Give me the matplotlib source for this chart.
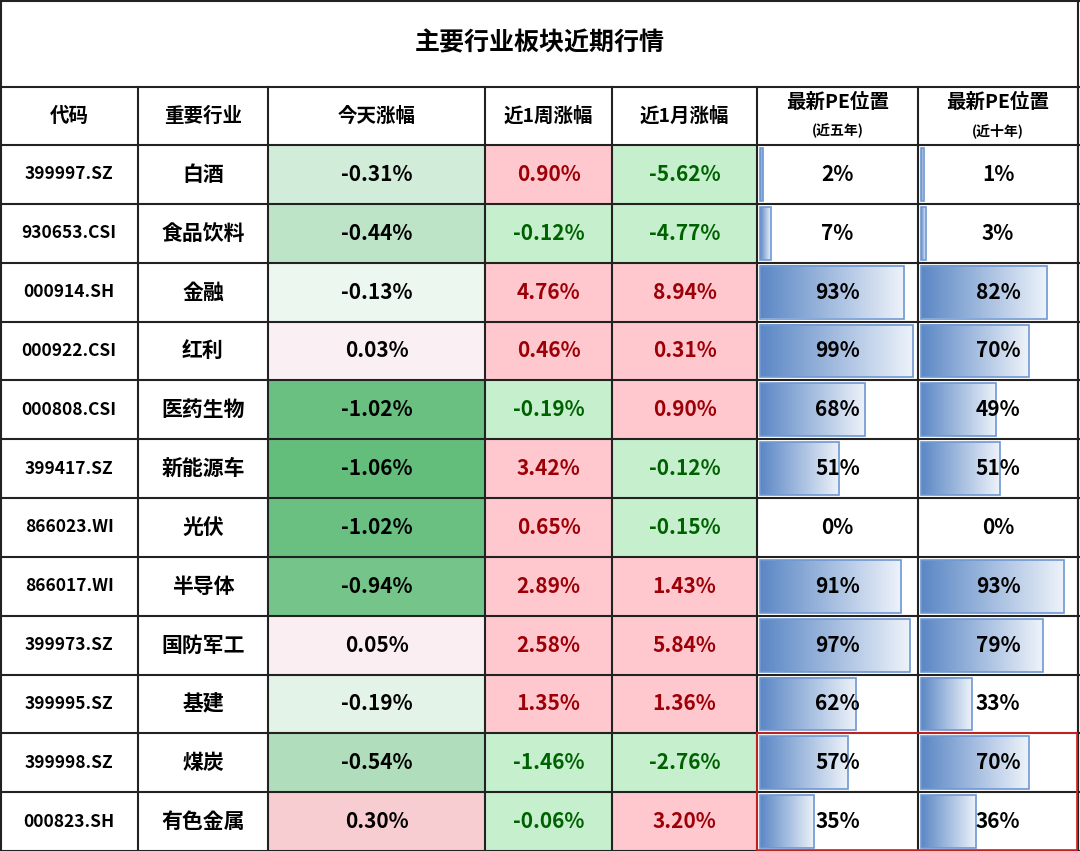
import numpy as np
import matplotlib.pyplot as plt
from matplotlib.colors import LinearSegmentedColormap, to_rgb
from matplotlib.patches import Rectangle

plt.rcParams["font.family"] = ["Noto Sans CJK SC", "Noto Sans CJK JP", "Noto Sans CJK TC",
                               "Noto Sans CJK KR", "DejaVu Sans"]

title = "主要行业板块近期行情"
headers = ["代码", "重要行业", "今天涨幅", "近1周涨幅", "近1月涨幅", "最新PE位置", "最新PE位置"]
subheaders = ["", "", "", "", "", "(近五年)", "(近十年)"]
codes = ["399997.SZ", "930653.CSI", "000914.SH", "000922.CSI", "000808.CSI", "399417.SZ",
         "866023.WI", "866017.WI", "399973.SZ", "399995.SZ", "399998.SZ", "000823.SH"]
sectors = ["白酒", "食品饮料", "金融", "红利", "医药生物", "新能源车",
           "光伏", "半导体", "国防军工", "基建", "煤炭", "有色金属"]
today = [-0.31, -0.44, -0.13, 0.03, -1.02, -1.06, -1.02, -0.94, 0.05, -0.19, -0.54, 0.30]
week = [0.90, -0.12, 4.76, 0.46, -0.19, 3.42, 0.65, 2.89, 2.58, 1.35, -1.46, -0.06]
month = [-5.62, -4.77, 8.94, 0.31, 0.90, -0.12, -0.15, 1.43, 5.84, 1.36, -2.76, 3.20]
pe5 = [2, 7, 93, 99, 68, 51, 0, 91, 97, 62, 57, 35]
pe10 = [1, 3, 82, 70, 49, 51, 0, 93, 79, 33, 70, 36]

W, H = 1080, 851
col_x = [0, 138, 268, 485, 612, 757, 918, 1078]
title_h, head_h = 87, 145
row_h = (H - head_h) / len(codes)

fig = plt.figure(figsize=(W / 100, H / 100), dpi=100)
ax = fig.add_axes([0, 0, 1, 1])
ax.set_xlim(0, W)
ax.set_ylim(H, 0)
ax.axis("off")

bar_cmap = LinearSegmentedColormap.from_list("bar", ["#5b87c5", "#eef3fa"])
grad = np.linspace(0, 1, 256).reshape(1, -1)


def today_color(v):
    lo, hi = min(today), max(today)
    w = np.array([1.0, 1.0, 1.0])
    if v < 0:
        t = v / lo
        return tuple(w + (np.array(to_rgb("#63be7b")) - w) * t)
    t = v / hi
    a, b = np.array(to_rgb("#faf4f8")), np.array(to_rgb("#f7cdd2"))
    return tuple(a + (b - a) * t)


def pct_cell(x0, x1, y0, v, bg=None, fg="black"):
    if bg:
        ax.add_patch(Rectangle((x0, y0), x1 - x0, row_h, color=bg, lw=0))
    ax.text((x0 + x1) / 2, y0 + row_h / 2, f"{v:.2f}%", ha="center", va="center",
            fontsize=15, color=fg, fontweight="bold")


def pe_cell(x0, x1, y0, v):
    if v > 0:
        bw = max((x1 - x0 - 6) * v / 100, 3)
        bx, by, bh = x0 + 3, y0 + 3, row_h - 6
        ax.imshow(grad, cmap=bar_cmap, extent=[bx, bx + bw, by + bh, by], aspect="auto", zorder=2)
        ax.add_patch(Rectangle((bx, by), bw, bh, fill=False, ec="#6f98d2", lw=1.2, zorder=3))
    ax.text((x0 + x1) / 2, y0 + row_h / 2, f"{v}%", ha="center", va="center",
            fontsize=15, fontweight="bold", zorder=4)


ax.text(W / 2, title_h / 2, title, ha="center", va="center", fontsize=18, fontweight="bold")
for i, h in enumerate(headers):
    cx = (col_x[i] + col_x[i + 1]) / 2
    if subheaders[i]:
        ax.text(cx, 102, h, ha="center", va="center", fontsize=14, fontweight="bold")
        ax.text(cx, 131, subheaders[i], ha="center", va="center", fontsize=10, fontweight="bold")
    else:
        ax.text(cx, (title_h + head_h) / 2, h, ha="center", va="center", fontsize=14, fontweight="bold")

for r in range(len(codes)):
    y0 = head_h + r * row_h
    cy = y0 + row_h / 2
    ax.text((col_x[0] + col_x[1]) / 2, cy, codes[r], ha="center", va="center", fontsize=12.5, fontweight="bold")
    ax.text((col_x[1] + col_x[2]) / 2, cy, sectors[r], ha="center", va="center", fontsize=15, fontweight="bold")
    pct_cell(col_x[2], col_x[3], y0, today[r], bg=today_color(today[r]))
    for c, vals in ((3, week), (4, month)):
        v = vals[r]
        if v >= 0:
            pct_cell(col_x[c], col_x[c + 1], y0, v, bg="#ffc7ce", fg="#9c0006")
        else:
            pct_cell(col_x[c], col_x[c + 1], y0, v, bg="#c6efce", fg="#006100")
    pe_cell(col_x[5], col_x[6], y0, pe5[r])
    pe_cell(col_x[6], col_x[7], y0, pe10[r])

# grid lines
lc = "#222222"
ax.plot([0, W], [1, 1], color=lc, lw=1.5, zorder=5)
ax.plot([0, W], [title_h, title_h], color=lc, lw=1.5, zorder=5)
for r in range(len(codes) + 1):
    y = head_h + r * row_h
    ax.plot([0, W], [y, y], color=lc, lw=1.5, zorder=5)
for x in col_x:
    ax.plot([x, x], [title_h, H], color=lc, lw=1.5, zorder=5)
ax.plot([1, 1], [0, H], color=lc, lw=1.5, zorder=5)
ax.plot([W - 2, W - 2], [0, H], color=lc, lw=1.5, zorder=5)

# red highlight box
y_red = head_h + 10 * row_h
ax.add_patch(Rectangle((col_x[5], y_red), W - 3 - col_x[5], H - y_red - 1,
                       fill=False, ec="#e02020", lw=1.2, zorder=6))

fig.savefig("out.png", dpi=100)
